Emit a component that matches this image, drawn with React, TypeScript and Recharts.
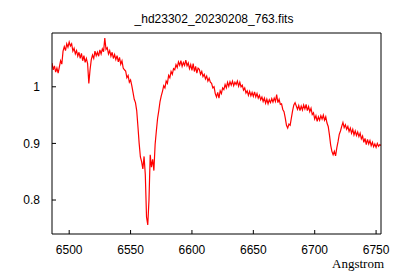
import { Line, LineChart, XAxis, YAxis } from "recharts";

// Spectre _hd23302 autour de H-alpha, style gnuplot (cadre, ticks vers l'intérieur).

const TITLE = "_hd23302_20230208_763.fits";
const X_LABEL = "Angstrom";

const WAVE_START = 6486; // Å, pas de 1 Å
const X_TICKS = [6500, 6550, 6600, 6650, 6700, 6750];
const Y_TICKS = [0.8, 0.9, 1];

const FLUX = [
  1.042, 1.030, 1.037, 1.026, 1.033, 1.024, 1.035, 1.046, 1.040, 1.063,
  1.071, 1.064, 1.076, 1.070, 1.079, 1.072, 1.076, 1.063, 1.068, 1.058,
  1.064, 1.054, 1.061, 1.050, 1.059, 1.046, 1.055, 1.043, 1.050, 1.041,
  1.006, 1.030, 1.048, 1.056, 1.050, 1.063, 1.055, 1.061, 1.054, 1.065,
  1.058, 1.067, 1.062, 1.086, 1.066, 1.069, 1.058, 1.064, 1.054, 1.061,
  1.050, 1.057, 1.048, 1.055, 1.044, 1.052, 1.040, 1.046, 1.033, 1.030,
  1.028, 1.016, 1.020, 1.008, 1.012, 1.002, 0.990, 0.978, 0.972, 0.958,
  0.930, 0.900, 0.876, 0.868, 0.855, 0.877, 0.845, 0.770, 0.756, 0.800,
  0.880, 0.858, 0.872, 0.852, 0.898, 0.922, 0.944, 0.958, 0.974, 0.984,
  0.992, 1.002, 0.998, 1.010, 1.006, 1.020, 1.016, 1.027, 1.022, 1.032,
  1.030, 1.039, 1.034, 1.044, 1.038, 1.046, 1.036, 1.043, 1.038, 1.047,
  1.037, 1.042, 1.032, 1.039, 1.029, 1.041, 1.027, 1.036, 1.024, 1.033,
  1.031, 1.022, 1.027, 1.018, 1.022, 1.014, 1.019, 1.010, 1.015, 1.008,
  1.006, 0.998, 1.000, 0.988, 0.982, 0.990, 0.980, 0.993, 0.988, 0.998,
  0.995, 1.004, 0.998, 1.008, 1.001, 1.009, 1.003, 1.010, 1.002, 1.008,
  1.004, 1.010, 1.001, 1.008, 1.000, 1.003, 0.994, 0.998, 0.989, 0.993,
  0.985, 0.992, 0.984, 0.990, 0.983, 0.991, 0.982, 0.988, 0.980, 0.985,
  0.977, 0.982, 0.974, 0.980, 0.971, 0.978, 0.970, 0.977, 0.972, 0.979,
  0.973, 0.980, 0.974, 0.986, 0.972, 0.978, 0.969, 0.970, 0.960, 0.956,
  0.945, 0.932, 0.927, 0.934, 0.932, 0.945, 0.958, 0.968, 0.972, 0.966,
  0.960, 0.967, 0.958, 0.966, 0.959, 0.968, 0.961, 0.969, 0.958, 0.965,
  0.956, 0.962, 0.951, 0.954, 0.943, 0.949, 0.939, 0.947, 0.941, 0.949,
  0.943, 0.950, 0.941, 0.947, 0.936, 0.930, 0.915, 0.897, 0.886, 0.880,
  0.886, 0.878, 0.892, 0.903, 0.916, 0.922, 0.930, 0.937, 0.928, 0.933,
  0.925, 0.930, 0.921, 0.927, 0.918, 0.925, 0.915, 0.922, 0.914, 0.920,
  0.912, 0.918, 0.908, 0.913, 0.902, 0.909, 0.898, 0.907, 0.899, 0.905,
  0.896, 0.902, 0.894, 0.899, 0.893, 0.900, 0.895, 0.898, 0.896,
];

const X_DOMAIN: [number, number] = [6486, 6754];
const Y_DOMAIN: [number, number] = [0.74, 1.095];

const TICK = { fontSize: 12, fill: "#000", fontFamily: "Liberation Sans, Arial, sans-serif" };
const AXIS_LINE = { stroke: "#000", strokeWidth: 1 };

export default function App() {
  const data = FLUX.map((f, i) => ({ x: WAVE_START + i, flux: f }));
  return (
    <div style={{ position: "absolute", left: 0, top: 0, width: 400, height: 280, background: "#fff" }}>
      <div
        style={{
          position: "absolute",
          left: 0,
          top: 12,
          width: 428,
          textAlign: "center",
          fontFamily: "Liberation Sans, Arial, sans-serif",
          fontSize: 12,
          lineHeight: "14px",
        }}
      >
        {TITLE}
      </div>
      <LineChart
        width={400}
        height={280}
        data={data}
        margin={{ top: 32, right: 18, bottom: 0, left: 0 }}
      >
        <XAxis
          xAxisId="b"
          dataKey="x"
          type="number"
          domain={X_DOMAIN}
          ticks={X_TICKS}
          allowDataOverflow
          height={46}
          tick={TICK}
          tickSize={-4}
          tickMargin={15}
          tickLine={AXIS_LINE}
          axisLine={AXIS_LINE}
        />
        <XAxis
          xAxisId="t"
          orientation="top"
          dataKey="x"
          type="number"
          domain={X_DOMAIN}
          ticks={X_TICKS}
          allowDataOverflow
          height={1}
          tick={false}
          tickSize={-4}
          tickLine={AXIS_LINE}
          axisLine={AXIS_LINE}
        />
        <YAxis
          yAxisId="l"
          type="number"
          domain={Y_DOMAIN}
          ticks={Y_TICKS}
          allowDataOverflow
          width={52}
          tick={TICK}
          tickSize={-4}
          tickMargin={16}
          tickLine={AXIS_LINE}
          axisLine={AXIS_LINE}
        />
        <YAxis
          yAxisId="r"
          orientation="right"
          type="number"
          domain={Y_DOMAIN}
          ticks={Y_TICKS}
          allowDataOverflow
          width={1}
          tick={false}
          tickSize={-4}
          tickLine={AXIS_LINE}
          axisLine={AXIS_LINE}
        />
        <Line
          xAxisId="b"
          yAxisId="l"
          type="linear"
          dataKey="flux"
          stroke="#ff0000"
          strokeWidth={1.2}
          dot={false}
          isAnimationActive={false}
        />
      </LineChart>
      <div
        style={{
          position: "absolute",
          right: 16,
          top: 258,
          fontFamily: "Liberation Serif, Times New Roman, serif",
          fontSize: 13,
          lineHeight: "11px",
        }}
      >
        {X_LABEL}
      </div>
    </div>
  );
}
